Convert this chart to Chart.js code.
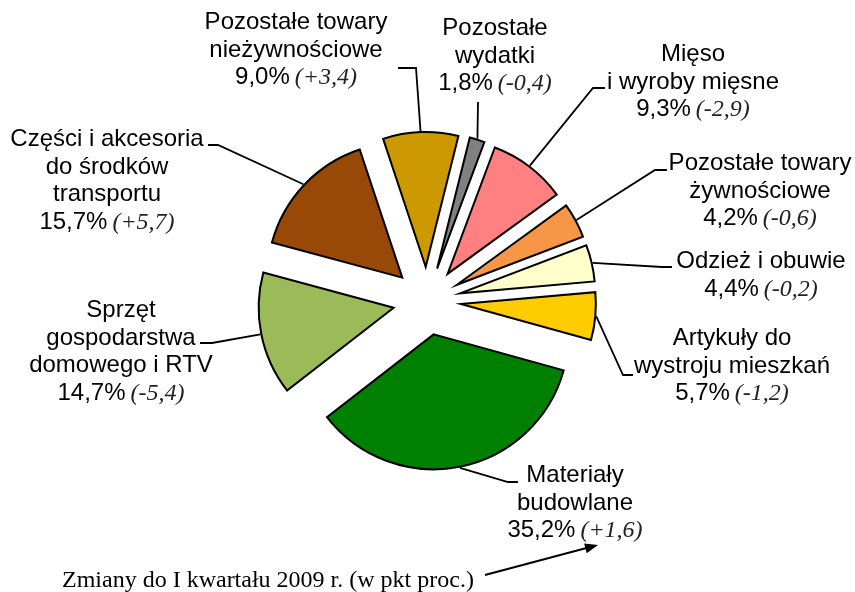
<!DOCTYPE html>
<html>
<head>
<meta charset="utf-8">
<script src="https://cdn.jsdelivr.net/npm/chart.js@4"></script>
<style>
  html, body { margin: 0; padding: 0; background: #fff; }
</style>
</head>
<body>
<canvas id="pie" width="855" height="592"></canvas>
<script>
// struktura (w %) i zmiany w pkt proc.
const categories = [
  ['Mięso', 'i wyroby mięsne'],
  ['Pozostałe towary', 'żywnościowe'],
  ['Odzież i obuwie'],
  ['Artykuły do', 'wystroju mieszkań'],
  ['Materiały', 'budowlane'],
  ['Sprzęt', 'gospodarstwa', 'domowego i RTV'],
  ['Części i akcesoria', 'do środków', 'transportu'],
  ['Pozostałe towary', 'nieżywnościowe'],
  ['Pozostałe', 'wydatki']
];
const shares  = [9.3, 4.2, 4.4, 5.7, 35.2, 14.7, 15.7, 9.0, 1.8];
const changes = [-2.9, -0.6, -0.2, -1.2, 1.6, -5.4, 5.7, 3.4, -0.4];
const colors  = ['#FF8080', '#F79646', '#FFFFCC', '#FFCC00', '#008000',
                 '#9BBB59', '#984807', '#CC9900', '#808080'];
const noteText = 'Zmiany do I kwartału 2009 r. (w pkt proc.)';

// where each label sits: centre x, first baseline, leader points after the slice edge
const labelPos = [
  { x: 693, y: 61,  leader: [[593, 88], [605, 88]] },
  { x: 760, y: 170, leader: [[655, 170], [667, 170]] },
  { x: 761, y: 268, leader: [[662, 267], [672, 267]] },
  { x: 732, y: 345, leader: [[623, 375], [633, 375]] },
  { x: 575, y: 482, leader: [[508, 482], [518, 482]] },
  { x: 121, y: 317, leader: [[212, 343], [200, 343]] },
  { x: 107, y: 146, leader: [[218, 145], [208, 145]] },
  { x: 296, y: 29,  leader: [[416, 68], [398, 68]] },
  { x: 495, y: 35,  leader: [[478, 102]] }
];

const EXPLODE = 34;
const LINE = 27.5;
const SANS = '24px "Liberation Sans", Arial, sans-serif';
const SERIF_I = 'italic 24px "Liberation Serif", "Times New Roman", serif';
const SERIF = '24px "Liberation Serif", "Times New Roman", serif';

const fmt = v => v.toFixed(1).replace('.', ',');

// push every slice out along its middle angle
const explode = {
  id: 'explode',
  afterDatasetsUpdate(chart) {
    chart.getDatasetMeta(0).data.forEach(arc => {
      const mid = (arc.startAngle + arc.endAngle) / 2;
      arc.x += Math.cos(mid) * EXPLODE;
      arc.y += Math.sin(mid) * EXPLODE;
    });
  }
};

const labels = {
  id: 'labels',
  afterDraw(chart) {
    const ctx = chart.ctx;
    const arcs = chart.getDatasetMeta(0).data;
    ctx.save();
    arcs.forEach((arc, i) => {
      const p = labelPos[i];
      const mid = (arc.startAngle + arc.endAngle) / 2;
      const r = arc.outerRadius + 1;
      ctx.strokeStyle = '#000';
      ctx.lineWidth = 1.8;
      ctx.beginPath();
      ctx.moveTo(arc.x + Math.cos(mid) * r, arc.y + Math.sin(mid) * r);
      p.leader.forEach(([x, y]) => ctx.lineTo(x, y));
      ctx.stroke();

      ctx.fillStyle = '#000';
      ctx.textAlign = 'center';
      ctx.textBaseline = 'alphabetic';
      ctx.font = SANS;
      const lines = categories[i];
      lines.forEach((t, k) => ctx.fillText(t, p.x, p.y + k * LINE));

      const y = p.y + lines.length * LINE;
      const pct = fmt(shares[i]) + '%';
      const chg = '(' + (changes[i] > 0 ? '+' : '') + fmt(changes[i]) + ')';
      ctx.font = SANS;
      const w1 = ctx.measureText(pct).width;
      ctx.font = SERIF_I;
      const w2 = ctx.measureText(chg).width;
      const gap = 5;
      const x0 = p.x - (w1 + gap + w2) / 2;
      ctx.textAlign = 'left';
      ctx.font = SANS;
      ctx.fillText(pct, x0, y);
      ctx.font = SERIF_I;
      ctx.fillStyle = '#222';
      ctx.fillText(chg, x0 + w1 + gap, y);
    });

    // note with arrow
    ctx.fillStyle = '#000';
    ctx.font = SERIF;
    ctx.textAlign = 'left';
    ctx.fillText(noteText, 62, 587);
    const ax = 485, ay = 575, bx = 598, by = 545;
    const ang = Math.atan2(by - ay, bx - ax);
    ctx.strokeStyle = '#000';
    ctx.lineWidth = 2;
    ctx.beginPath();
    ctx.moveTo(ax, ay);
    ctx.lineTo(bx - Math.cos(ang) * 8, by - Math.sin(ang) * 8);
    ctx.stroke();
    ctx.beginPath();
    ctx.moveTo(bx, by);
    ctx.lineTo(bx - Math.cos(ang) * 13 + Math.sin(ang) * 5, by - Math.sin(ang) * 13 - Math.cos(ang) * 5);
    ctx.lineTo(bx - Math.cos(ang) * 13 - Math.sin(ang) * 5, by - Math.sin(ang) * 13 + Math.cos(ang) * 5);
    ctx.closePath();
    ctx.fill();
    ctx.restore();
  }
};

new Chart(document.getElementById('pie'), {
  type: 'pie',
  data: {
    labels: categories,
    datasets: [{
      data: shares,
      backgroundColor: colors,
      borderColor: '#000',
      borderWidth: 2,
      borderJoinStyle: 'miter'
    }]
  },
  options: {
    responsive: false,
    animation: false,
    rotation: 20.5,
    radius: 135,
    layout: { padding: { left: 200, right: 201, top: 60, bottom: 50 } },
    plugins: {
      legend: { display: false },
      tooltip: { enabled: false }
    }
  },
  plugins: [explode, labels]
});
</script>
</body>
</html>
